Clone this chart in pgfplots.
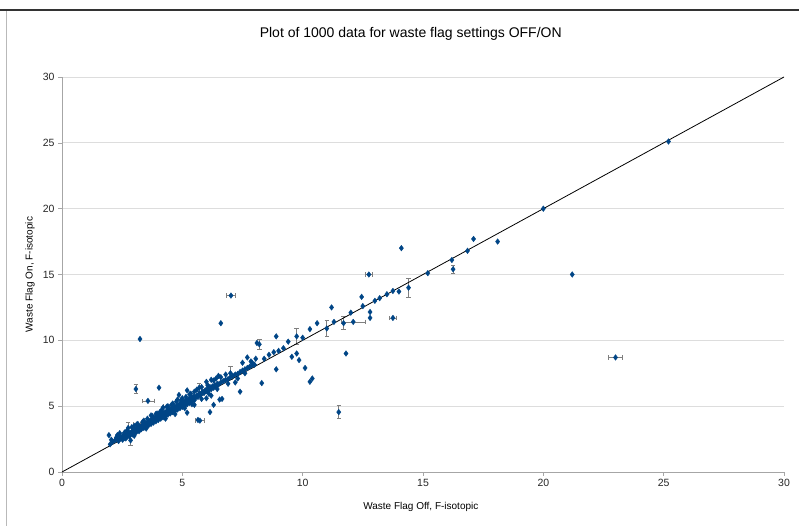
\documentclass[border=0pt]{standalone}
\usepackage{fontspec}
\setmainfont{Liberation Sans}
\usepackage{pgfplots}
\pgfplotsset{compat=1.18}
\usepackage{pgfplotstable}
\definecolor{ooblue}{HTML}{004586}
\definecolor{gridgray}{HTML}{DDDDDD}
\definecolor{errgray}{HTML}{7F7F7F}

\pgfplotstableread{
x y
2.00 2.10
2.05 2.45
1.95 2.80
2.10 2.30
2.20 2.40
2.25 2.60
2.30 2.50
2.35 2.35
2.40 2.70
2.45 2.55
2.50 2.65
2.52 2.45
2.55 2.80
2.60 2.60
2.62 2.75
2.65 2.55
2.70 2.90
2.72 2.70
2.78 2.85
2.80 2.70
2.82 3.00
2.88 2.95
2.90 3.05
2.92 2.85
2.95 3.10
2.98 3.00
3.00 3.20
3.02 2.95
3.05 3.15
3.08 3.25
3.10 3.05
3.12 3.30
3.15 3.20
3.18 3.35
3.20 3.10
3.22 3.40
3.25 3.30
3.28 3.45
3.30 3.25
3.32 3.50
3.35 3.40
3.38 3.55
3.40 3.35
3.42 3.60
3.45 3.50
3.48 3.65
3.50 3.45
3.52 3.70
3.55 3.60
3.58 3.75
3.60 3.55
3.62 3.85
3.65 3.70
3.68 3.90
3.70 3.65
3.72 3.95
3.75 3.80
3.78 4.00
3.80 3.75
3.82 4.05
3.85 3.95
3.88 4.15
3.90 3.85
3.92 4.10
3.95 4.00
3.98 4.25
4.00 3.95
4.02 4.20
4.05 4.10
4.08 4.35
4.10 4.05
4.12 4.30
4.15 4.20
4.18 4.45
4.20 4.15
4.22 4.40
4.25 4.30
4.28 4.55
4.30 4.25
4.32 4.50
4.35 4.40
4.38 4.65
4.40 4.35
4.42 4.60
4.45 4.50
4.48 4.75
4.50 4.45
4.52 4.70
4.55 4.60
4.58 4.85
4.60 4.55
4.62 4.80
4.65 4.70
4.68 4.95
4.70 4.65
4.72 4.90
4.75 4.80
4.78 5.05
4.80 4.75
4.82 5.00
4.85 4.90
4.88 5.15
4.90 4.85
4.92 5.10
4.95 5.00
4.98 5.25
5.00 4.95
5.02 5.20
5.05 5.10
5.08 5.35
5.10 5.05
5.12 5.30
5.15 5.20
5.18 5.45
5.20 5.15
5.22 5.40
5.25 5.30
5.28 5.55
5.30 5.25
5.32 5.50
5.35 5.40
5.38 5.65
5.40 5.35
5.42 5.60
5.45 5.50
5.48 5.75
5.50 5.45
5.55 5.65
5.60 5.80
5.65 5.70
5.70 5.95
5.75 5.85
5.80 6.00
5.85 6.10
5.90 6.00
5.95 6.20
6.00 6.15
6.05 6.35
6.10 6.20
6.15 6.45
6.20 6.30
6.25 6.50
6.30 6.40
6.35 6.60
6.40 6.55
6.45 6.70
6.50 6.65
6.60 6.80
6.70 6.90
6.80 7.00
6.90 7.05
7.00 7.20
7.10 7.30
7.20 7.40
7.30 7.45
7.40 7.60
7.50 7.70
7.60 7.80
7.70 7.90
7.80 8.00
7.90 8.10
8.00 8.15
2.30 2.80
2.60 3.00
3.00 3.50
3.40 3.90
3.70 4.30
3.90 4.40
4.10 4.60
4.20 4.90
4.60 5.20
4.80 5.50
4.86 5.85
5.00 5.60
5.20 6.20
5.30 5.90
5.50 6.10
6.05 6.60
6.20 7.00
6.50 7.30
6.40 7.10
6.80 7.40
2.40 2.95
2.70 3.15
2.90 3.40
3.15 3.65
3.35 3.80
3.55 4.05
3.75 4.25
3.95 4.45
4.15 4.70
4.35 4.95
4.55 5.10
4.75 5.35
4.95 5.45
5.15 5.70
5.35 5.95
5.60 6.25
5.80 6.45
6.00 6.85
6.30 6.95
6.60 7.20
5.10 4.85
5.40 5.15
5.80 5.55
6.10 5.95
6.45 6.30
6.90 6.70
7.30 7.10
7.60 7.50
7.85 8.40
8.05 8.60
3.00 2.75
3.50 3.30
4.07 4.55
4.30 4.05
4.70 4.40
5.20 4.50
5.50 5.10
5.65 3.95
6.15 4.55
6.30 5.10
6.55 5.50
6.65 5.55
6.20 5.80
6.00 5.60
7.40 6.10
7.20 6.80
8.30 6.75
7.70 8.70
7.50 8.30
7.90 8.30
8.10 9.80
8.40 8.60
8.60 8.90
8.80 9.10
8.90 7.80
8.90 10.30
9.00 9.20
9.20 9.40
9.40 9.90
9.55 8.75
9.75 9.00
9.85 8.50
10.00 10.20
10.10 7.90
10.30 6.85
10.40 7.10
10.30 10.85
10.60 11.30
11.20 12.50
11.30 11.40
11.80 9.00
12.00 12.10
12.45 13.30
12.50 12.60
12.80 11.70
12.80 12.15
13.00 13.00
13.20 13.20
13.50 13.50
13.75 13.75
14.00 13.70
14.10 17.00
15.20 15.10
16.20 16.10
16.85 16.80
17.10 17.70
18.10 17.50
20.00 20.00
21.20 15.00
25.20 25.10
3.24 10.10
4.03 6.40
6.60 11.30
}\pointsdata

\pgfplotstableread{
x y ey
2.75 3.35 0.40
2.85 2.40 0.35
5.70 6.40 0.30
7.00 7.50 0.50
8.20 9.70 0.40
9.75 10.30 0.60
11.00 10.90 0.60
11.50 4.55 0.50
11.70 11.30 0.50
14.40 14.00 0.70
16.25 15.40 0.30
3.07 6.30 0.35
}\yerrdata

\pgfplotstableread{
x y ex
3.10 3.60 0.15
4.40 5.00 0.20
12.10 11.40 0.50
12.75 15.00 0.15
13.75 11.70 0.15
23.00 8.70 0.30
3.57 5.40 0.25
7.02 13.40 0.20
5.73 3.90 0.20
}\xerrdata

\begin{document}
\begin{tikzpicture}[x=1pt,y=1pt]
\useasboundingbox (0,0) rectangle (799,526);
\draw[gray!55, line width=0.8pt] (6,0) -- (6,516);
\draw[black!80, line width=1.2pt] (0,516) -- (799,516);
\begin{axis}[
  at={(62pt,54pt)}, anchor=south west,
  scale only axis, width=722pt, height=395pt,
  xmin=0, xmax=30, ymin=0, ymax=30,
  xtick={0,5,...,30}, ytick={0,5,...,30},
  axis x line=bottom, axis y line=left,
  axis line style={-, gray!70, line width=0.6pt},
  tick align=outside, major tick length=4pt,
  tick style={gray!70, line width=0.6pt},
  ymajorgrids, grid style={gridgray, line width=0.8pt},
  ticklabel style={font=\fontsize{10.5}{12}\selectfont, text=black!85},
  /pgf/number format/assume math mode=true,
  title={Plot of 1000 data for waste flag settings OFF/ON},
  title style={font=\fontsize{14}{16}\selectfont, at={(axis description cs:0.483,1)}, anchor=center, yshift=37pt},
  xlabel={Waste Flag Off, F-isotopic},
  xlabel style={font=\fontsize{10}{12}\selectfont, at={(axis description cs:0.497,0)}, anchor=center, yshift=-35pt},
  ylabel={Waste Flag On, F-isotopic},
  ylabel style={font=\fontsize{10}{12}\selectfont, at={(axis description cs:-0.0443,0.5)}, anchor=center},
  clip=false,
  every mark/.append style={xscale=1.25},
]
\addplot[only marks, mark=diamond*, mark size=2.8pt, color=ooblue,
  error bars/.cd, y dir=both, y explicit,
  error bar style={errgray, line width=0.7pt},
  error mark options={rotate=90, mark size=2.2pt, errgray, line width=0.7pt}]
  table[x=x, y=y, y error=ey] {\yerrdata};
\addplot[only marks, mark=diamond*, mark size=2.8pt, color=ooblue,
  error bars/.cd, x dir=both, x explicit,
  error bar style={errgray, line width=0.7pt},
  error mark options={rotate=90, mark size=2.2pt, errgray, line width=0.7pt}]
  table[x=x, y=y, x error=ex] {\xerrdata};
\addplot[only marks, mark=diamond*, mark size=2.8pt, color=ooblue]
  table[x=x, y=y] {\pointsdata};
\addplot[black, line width=0.8pt] coordinates {(0,0) (30,30)};
\end{axis}
\end{tikzpicture}
\end{document}
